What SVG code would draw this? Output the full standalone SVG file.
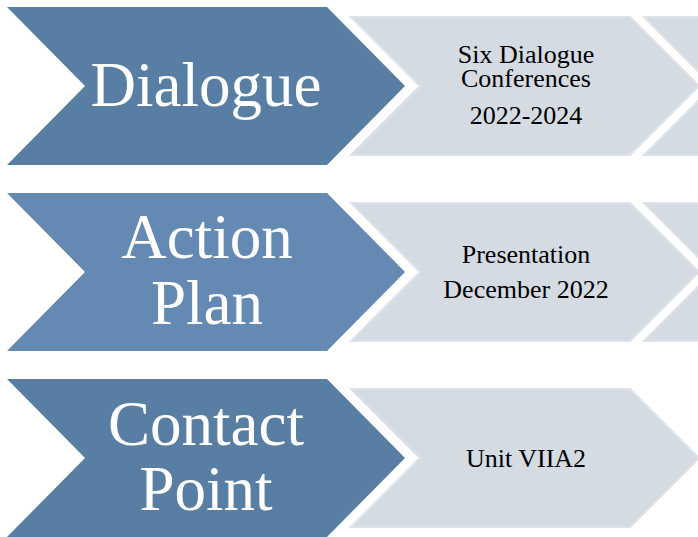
<svg xmlns="http://www.w3.org/2000/svg" width="698" height="537" viewBox="0 0 698 537">
<style>
.dark1{fill:#587fa3}
.dark2{fill:#6489b3}
.light{fill:#d5dbe3;stroke:#dde1e8;stroke-width:2}
.big{font-family:"Liberation Serif","Times New Roman",serif;font-size:63px;fill:#ffffff;text-anchor:middle}
.small{font-family:"Liberation Serif","Times New Roman",serif;font-size:26px;fill:#000000;text-anchor:middle}
</style>
<defs>
<path id="dk" d="M7,-79 L327,-79 L405,0 L327,79 L7,79 L85,0 Z"/>
<path id="lt" d="M351,-69 L630,-69 L699,0 L630,69 L351,69 L420,0 Z"/>
<path id="lt3" d="M644,-69 L923,-69 L992,0 L923,69 L644,69 L713,0 Z"/>
</defs>
<rect width="698" height="537" fill="#ffffff"/>
<g id="row1-extra"><use href="#lt3" class="light" transform="translate(0,86)"/></g>
<g id="row2-extra"><use href="#lt3" class="light" transform="translate(0,272)"/></g>
<g id="dialogue">
<use href="#dk" class="dark1" transform="translate(0,86)"/>
<text class="big" x="206" y="106">Dialogue</text>
</g>
<g id="dialogue-detail">
<use href="#lt" class="light" transform="translate(0,86)"/>
<text class="small" x="526" y="63">Six Dialogue</text>
<text class="small" x="526" y="87">Conferences</text>
<text class="small" x="526" y="124">2022-2024</text>
</g>
<g id="action-plan">
<use href="#dk" class="dark2" transform="translate(0,272)"/>
<text class="big" x="207" y="258">Action</text>
<text class="big" x="207" y="324">Plan</text>
</g>
<g id="action-plan-detail">
<use href="#lt" class="light" transform="translate(0,272)"/>
<text class="small" x="526" y="263">Presentation</text>
<text class="small" x="526" y="298">December 2022</text>
</g>
<g id="contact-point">
<use href="#dk" class="dark1" transform="translate(0,458)"/>
<text class="big" x="206" y="445">Contact</text>
<text class="big" x="206" y="510">Point</text>
</g>
<g id="contact-point-detail">
<use href="#lt" class="light" transform="translate(0,458)"/>
<text class="small" x="526" y="467">Unit VIIA2</text>
</g>
<g id="connectors"></g>
</svg>
